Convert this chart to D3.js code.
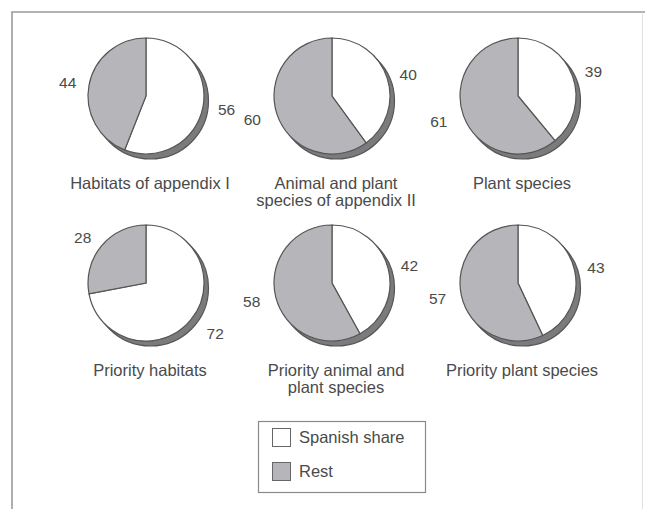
<!DOCTYPE html>
<html>
<head>
<meta charset="utf-8">
<script src="https://cdn.jsdelivr.net/npm/d3@7"></script>
<style>
  html, body { margin: 0; padding: 0; background: #fff; }
  svg { display: block; }
  text { font-family: "Liberation Sans", Arial, sans-serif; fill: #4a4a4a; }
</style>
</head>
<body>
<svg id="chart" width="645" height="509"></svg>
<script>
// ---- data ----
const titles = [
  ["Habitats of appendix I"],
  ["Animal and plant", "species of appendix II"],
  ["Plant species"],
  ["Priority habitats"],
  ["Priority animal and", "plant species"],
  ["Priority plant species"]
];
const spanishShare = [56, 40, 39, 72, 42, 43];
const rest = [44, 60, 61, 28, 58, 57];
const seriesNames = ["Spanish share", "Rest"];
const seriesColors = ["#ffffff", "#b6b6ba"];

// ---- layout ----
const W = 645, H = 509;
const svg = d3.select("#chart");
const r = 58;
const colX = d3.scalePoint().domain([0, 1, 2]).range([146, 518]);
const rowY = d3.scalePoint().domain([0, 1]).range([96, 283]);

// frame
svg.append("path")
  .attr("d", `M12,${H} L12,12 L${W},12`)
  .attr("fill", "none").attr("stroke", "#9a9a9a").attr("stroke-width", 1.6);
svg.append("line")
  .attr("x1", 642.5).attr("x2", 642.5).attr("y1", 14).attr("y2", H)
  .attr("stroke", "#e2e2e2").attr("stroke-width", 1);

const pie = d3.pie().sort(null).value(d => d.v);
const arc = d3.arc().innerRadius(0).outerRadius(r);

titles.forEach((t, i) => {
  const cx = colX(i % 3), cy = rowY(Math.floor(i / 3));
  const g = svg.append("g").attr("transform", `translate(${cx},${cy})`);
  const data = [
    { k: 0, v: spanishShare[i] },
    { k: 1, v: rest[i] }
  ];
  // shadow
  g.append("circle")
    .attr("cx", 4.5).attr("cy", 5).attr("r", r)
    .attr("fill", "#7b7b7d").attr("stroke", "#555").attr("stroke-width", 1.2);
  const arcs = pie(data);
  g.selectAll("path.slice").data(arcs).join("path")
    .attr("class", "slice")
    .attr("d", arc)
    .attr("fill", d => seriesColors[d.data.k])
    .attr("stroke", "#555").attr("stroke-width", 1.2);

  // value labels
  arcs.forEach(a => {
    const m = (a.startAngle + a.endAngle) / 2;
    const rr = r + 13 + Math.max(0, Math.cos(m + Math.PI)) * 12;
    const x = Math.sin(m) * rr, y = -Math.cos(m) * rr;
    g.append("text")
      .attr("x", x).attr("y", y).attr("dy", "0.35em")
      .attr("text-anchor", Math.sin(m) > 0 ? "start" : "end")
      .style("font-size", "15.5px")
      .text(a.data.v);
  });

  // title
  const tt = g.append("text")
    .attr("text-anchor", "middle")
    .style("font-size", "16.5px");
  t.forEach((line, j) => {
    tt.append("tspan").attr("x", 4).attr("y", r + 35 + j * 17).text(line);
  });
});

// legend
const lg = svg.append("g");
lg.append("rect")
  .attr("x", 258.5).attr("y", 421.5).attr("width", 167).attr("height", 71)
  .attr("fill", "#fff").attr("stroke", "#8a8a8a").attr("stroke-width", 1.2);
seriesNames.forEach((s, i) => {
  const y = 428 + i * 34;
  lg.append("rect")
    .attr("x", 272.5).attr("y", y + 0.5).attr("width", 18).attr("height", 18)
    .attr("fill", seriesColors[i]).attr("stroke", "#666").attr("stroke-width", 1);
  lg.append("text")
    .attr("x", 299).attr("y", y + 9).attr("dy", "0.35em")
    .style("font-size", "16.5px")
    .text(s);
});
</script>
</body>
</html>
